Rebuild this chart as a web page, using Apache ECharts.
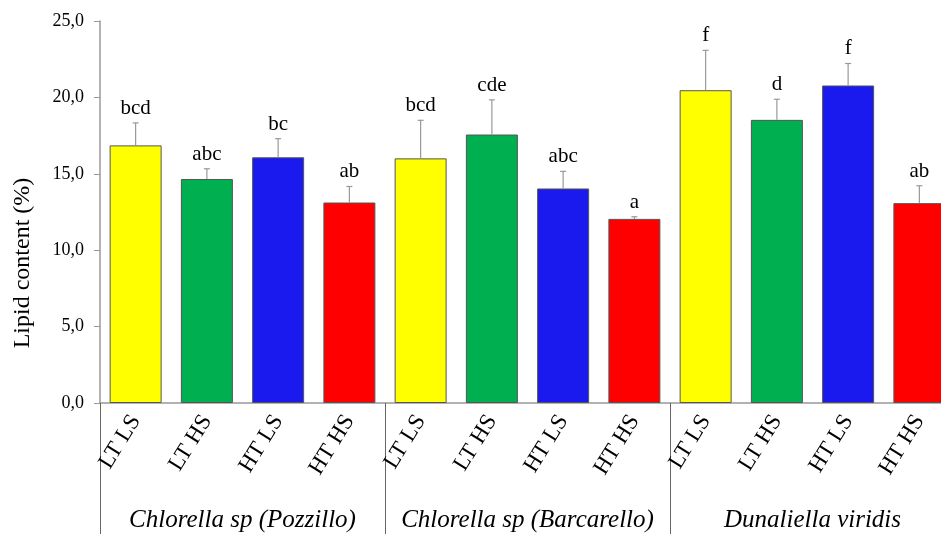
<!DOCTYPE html>
<html><head><meta charset="utf-8">
<script src="https://cdn.jsdelivr.net/npm/echarts@6/dist/echarts.min.js"></script>
<style>html,body{margin:0;padding:0;background:#fff}#c{width:941px;height:534px}</style>
</head><body><div id="c"></div>
<script>
var categories = ['LT LS','LT HS','HT LS','HT HS','LT LS','LT HS','HT LS','HT HS','LT LS','LT HS','HT LS','HT HS'];
var groups = ['Chlorella sp (Pozzillo)','Chlorella sp (Barcarello)','Dunaliella viridis'];
var means = [16.86, 14.66, 16.08, 13.12, 16.01, 17.57, 14.04, 12.05, 20.47, 18.53, 20.78, 13.08];
var errors = [1.47, 0.67, 1.22, 1.05, 2.49, 2.27, 1.12, 0.14, 2.61, 1.35, 1.44, 1.14];
var letters = ['bcd','abc','bc','ab','bcd','cde','abc','a','f','d','f','ab'];
var yTicks = [0, 5, 10, 15, 20, 25];
var barColors = ['#FFFF00','#00B050','#1A1AEE','#FF0000'];

var serif = '"Liberation Serif","Times New Roman",serif';
var chart = echarts.init(document.getElementById('c'), null, {renderer:'canvas'});
var errData = means.map(function(m,i){ return [i, m, errors[i], letters[i]]; });

chart.setOption({
  animation: false,
  grid: {left: 100, top: 21, bottom: 131, width: 855, containLabel: false, outerBoundsMode: 'none'},
  xAxis: [{
    type: 'category', data: categories, position: 'bottom',
    axisLine: {show: true, lineStyle: {color: '#999', width: 1.5}},
    axisTick: {show: false},
    axisLabel: {rotate: 58, margin: 14, fontFamily: serif, fontSize: 23, color: '#000', interval: 0}
  },{
    type: 'category', data: groups, position: 'bottom',
    axisLine: {show: false},
    axisTick: {show: true, length: 132, lineStyle: {color: '#666', width: 1}},
    axisLabel: {margin: 105, fontFamily: serif, fontStyle: 'italic', fontSize: 25, color: '#000', interval: 0}
  }],
  yAxis: {
    type: 'value', min: yTicks[0], max: yTicks[yTicks.length-1], interval: 5,
    axisLine: {show: true, lineStyle: {color: '#999', width: 1.5}},
    axisTick: {show: true, inside: false, length: 6, lineStyle: {color: '#999'}},
    splitLine: {show: false},
    axisLabel: {fontFamily: serif, fontSize: 18, color: '#000', margin: 16,
      formatter: function(v){ return v.toFixed(1).replace('.', ','); }}
  },
  graphic: [{
    type: 'text', x: 23, y: 263, rotation: Math.PI/2,
    style: {text: 'Lipid content (%)', fontFamily: serif, fontSize: 24, fill: '#000', align: 'center', verticalAlign: 'middle'}
  }],
  series: [{
    type: 'bar', xAxisIndex: 0,
    data: means.map(function(v,i){ return {value: v, itemStyle: {color: barColors[i % 4]}}; }),
    barWidth: 52,
    itemStyle: {borderColor: '#555', borderWidth: 1}
  },{
    type: 'custom', xAxisIndex: 0, z: 5,
    data: errData,
    renderItem: function(params, api){
      var x = api.value(0);
      var p0 = api.coord([x, api.value(1)]);
      var p1 = api.coord([x, api.value(1) + api.value(2)]);
      var st = {stroke: '#999', lineWidth: 1.2};
      return {type: 'group', children: [
        {type: 'line', shape: {x1: p0[0], y1: p0[1], x2: p1[0], y2: p1[1]}, style: st},
        {type: 'line', shape: {x1: p1[0]-3, y1: p1[1], x2: p1[0]+3, y2: p1[1]}, style: st},
        {type: 'text', x: p1[0], y: p1[1] - 4, style: {text: api.value(3), fontFamily: serif, fontSize: 21, fill: '#000', align: 'center', verticalAlign: 'bottom'}}
      ]};
    }
  }]
});
</script></body></html>
